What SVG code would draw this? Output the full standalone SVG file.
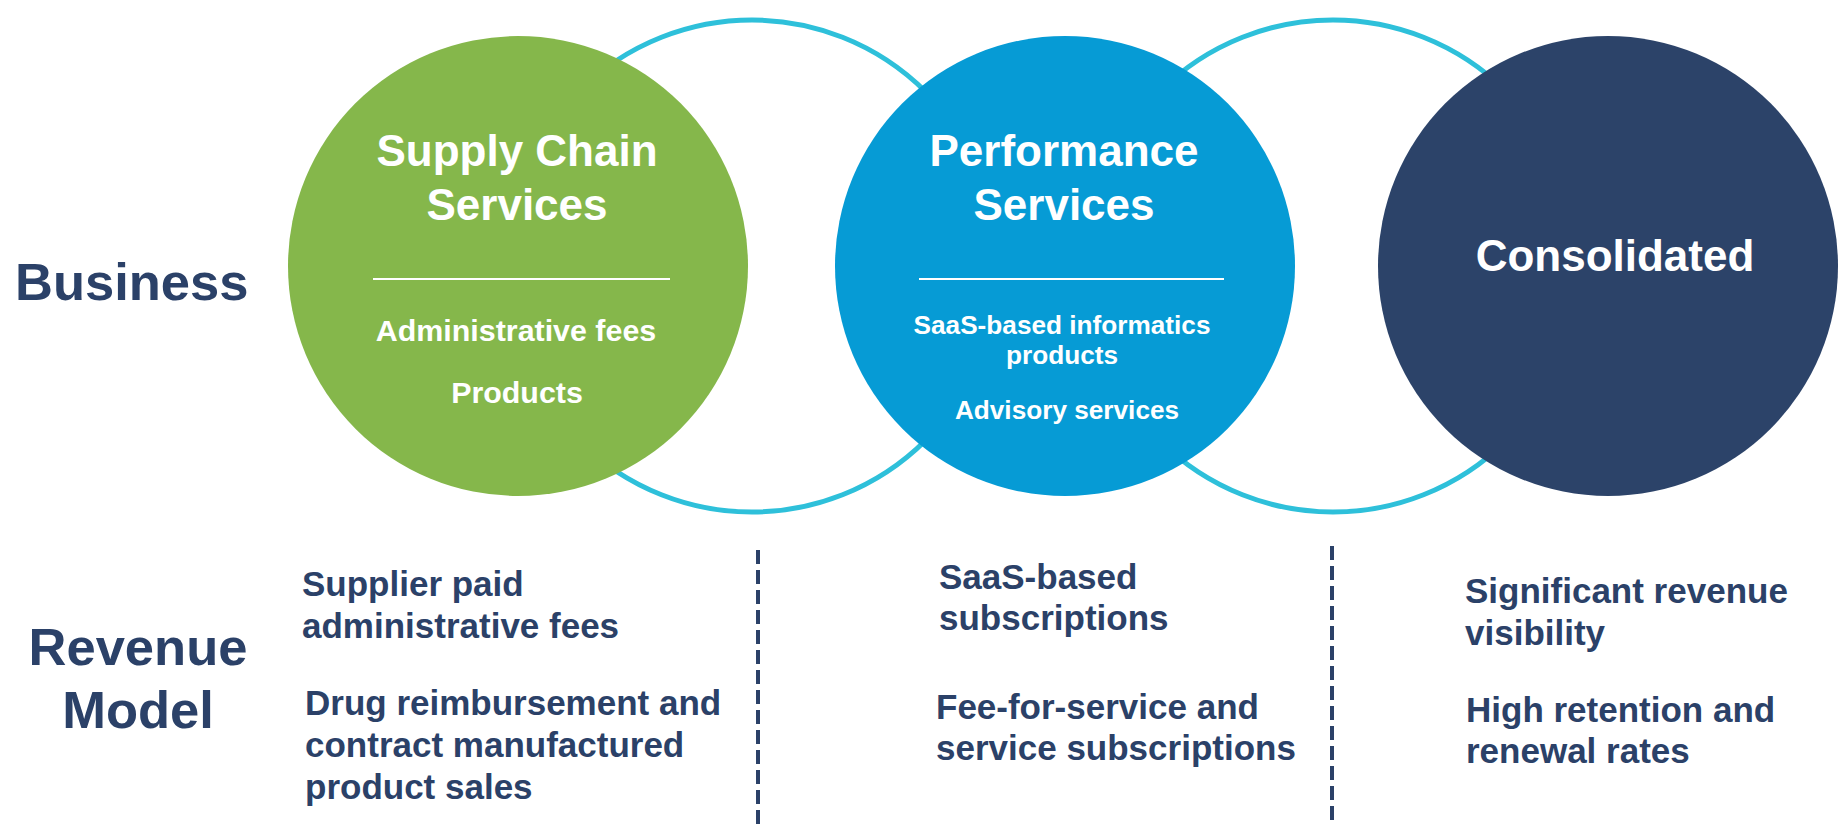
<svg xmlns="http://www.w3.org/2000/svg" width="1838" height="833" viewBox="0 0 1838 833">
<style>
.ring{fill:none;stroke:#2EC0DA;stroke-width:5}
.t{font-family:"Liberation Sans",Arial,sans-serif;font-weight:bold}
.w{fill:#FFFFFF}
.n{fill:#2B4168}
.title{font-size:44px;text-anchor:middle}
.sub{text-anchor:middle}
.head{font-size:52.5px}
.body{font-size:35px}
.rule{stroke:#FFFFFF;stroke-width:2}
.dash{stroke:#2B4168;stroke-width:4;stroke-dasharray:14 6}
</style>
<rect width="1838" height="833" fill="#FFFFFF"/>
<g id="connectors">
<circle class="ring" cx="752" cy="266" r="246"/>
<circle class="ring" cx="1333" cy="266" r="246"/>
<line class="dash" x1="758" y1="550" x2="758" y2="828"/>
<line class="dash" x1="1332" y1="546" x2="1332" y2="824"/>
</g>
<g id="supply-chain">
<circle cx="518" cy="266" r="230" fill="#85B74B"/>
<text class="t w title" x="517" y="166">Supply Chain</text>
<text class="t w title" x="517" y="220">Services</text>
<line class="rule" x1="373" y1="279" x2="670" y2="279"/>
<text class="t w sub" x="516" y="341" font-size="30.4">Administrative fees</text>
<text class="t w sub" x="517" y="403" font-size="30.4">Products</text>
</g>
<g id="performance">
<circle cx="1065" cy="266" r="230" fill="#069BD5"/>
<text class="t w title" x="1064" y="166">Performance</text>
<text class="t w title" x="1064" y="220">Services</text>
<line class="rule" x1="919" y1="279" x2="1224" y2="279"/>
<text class="t w sub" x="1062" y="334" font-size="26.2">SaaS-based informatics</text>
<text class="t w sub" x="1062" y="364" font-size="26.2">products</text>
<text class="t w sub" x="1067" y="419" font-size="26.2">Advisory services</text>
</g>
<g id="consolidated">
<circle cx="1608" cy="266" r="230" fill="#2C4369"/>
<text class="t w title" x="1615" y="271" font-size="44.5">Consolidated</text>
</g>
<g id="labels">
<text class="t n head" x="15" y="300">Business</text>
<text class="t n head" x="138" y="665" text-anchor="middle">Revenue</text>
<text class="t n head" x="138" y="728" text-anchor="middle">Model</text>
</g>
<g id="revenue-supply">
<text class="t n body" x="302" y="596">Supplier paid</text>
<text class="t n body" x="302" y="638">administrative fees</text>
<text class="t n body" x="305" y="715">Drug reimbursement and</text>
<text class="t n body" x="305" y="757">contract manufactured</text>
<text class="t n body" x="305" y="799">product sales</text>
</g>
<g id="revenue-performance">
<text class="t n body" x="939" y="589">SaaS-based</text>
<text class="t n body" x="939" y="630">subscriptions</text>
<text class="t n body" x="936" y="719">Fee-for-service and</text>
<text class="t n body" x="936" y="760">service subscriptions</text>
</g>
<g id="revenue-consolidated">
<text class="t n body" x="1465" y="603">Significant revenue</text>
<text class="t n body" x="1465" y="645">visibility</text>
<text class="t n body" x="1466" y="722">High retention and</text>
<text class="t n body" x="1466" y="763">renewal rates</text>
</g>
</svg>
